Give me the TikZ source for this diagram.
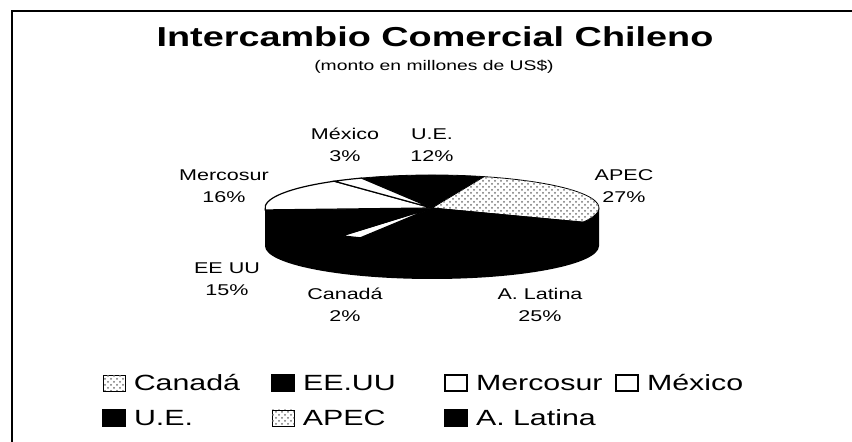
\documentclass[tikz,border=0pt]{standalone}
\usepackage{fontspec}
\setmainfont{Liberation Sans}[FakeStretch=1.38]
\usetikzlibrary{positioning,patterns}

\begin{document}
\begin{tikzpicture}[x=0.5pt,y=0.5pt,
    sliceblack/.style={fill=black, draw=black, line width=0.4pt},
    slicewhite/.style={fill=white, draw=black, line width=0.6pt},
    slicedots/.style={fill=white, draw=black, line width=0.4pt, postaction={pattern=crosshatch dots, pattern color=black!55}},
    lbl/.style={align=center, inner sep=0pt, font=\fontsize{7.8}{11}\selectfont},
    keybox/.style={draw, line width=0.6pt, minimum width=11pt, minimum height=8pt, inner sep=0pt},
    keytext/.style={inner sep=0pt, font=\fontsize{11}{13}\selectfont}]
    \useasboundingbox (0,0) rectangle (852,442);

    % frame
    \draw[line width=1pt] (12,0) -- (12,431) -- (852,431);

    % titles
    \node (title) [anchor=base, inner sep=0pt, font=\bfseries\fontsize{13.7}{16}\selectfont] at (435,395) {Intercambio Comercial Chileno};
    \node (subtitle) [anchor=base, inner sep=0pt, font=\fontsize{7}{8}\selectfont] at (434,371) {(monto en millones de US\$)};

    % pie: side first, then the top slices
    \coordinate (pc) at (432,234);
    \fill[black] (pc) ++(-167,0) -- ++(0,-38) arc[start angle=180, end angle=360, x radius=167, y radius=33] -- ++(0,38) -- cycle;
    \filldraw[sliceblack] (pc) -- ++(115:167 and 33) arc[start angle=115, end angle=71.8, x radius=167, y radius=33] -- cycle;       % U.E.
    \filldraw[slicedots] (pc) -- ++(71.8:167 and 33) arc[start angle=71.8, end angle=-25.4, x radius=167, y radius=33] -- cycle;     % APEC
    \filldraw[sliceblack] (pc) -- ++(-25.4:167 and 33) arc[start angle=-25.4, end angle=-115.4, x radius=167, y radius=33] -- cycle; % A. Latina
    \filldraw[slicewhite] (pc) -- ++(-115.4:167 and 33) arc[start angle=-115.4, end angle=-122.6, x radius=167, y radius=33] -- cycle; % Canada
    \filldraw[sliceblack] (pc) -- ++(-122.6:167 and 33) arc[start angle=-122.6, end angle=-176.6, x radius=167, y radius=33] -- cycle; % EE UU
    \filldraw[slicewhite] (pc) -- ++(-176.6:167 and 33) arc[start angle=-176.6, end angle=-234.2, x radius=167, y radius=33] -- cycle; % Mercosur
    \filldraw[slicewhite] (pc) -- ++(125.8:167 and 33) arc[start angle=125.8, end angle=115, x radius=167, y radius=33] -- cycle;     % Mexico

    % slice labels
    \node (lmex) [lbl] at (345,297) {México\\3\%};
    \node (lue) [lbl] at (432,297) {U.E.\\12\%};
    \node (lmer) [lbl] at (224,256) {Mercosur\\16\%};
    \node (lapec) [lbl] at (624,256) {APEC\\27\%};
    \node (leeuu) [lbl] at (227,163) {EE UU\\15\%};
    \node (lcan) [lbl] at (345,137) {Canadá\\2\%};
    \node (llat) [lbl] at (540,137) {A. Latina\\25\%};

    % legend
    \node (kcan) [keybox, slicedots] at (114,59) {};
    \node (tcan) [keytext, right=4pt of kcan] {Canadá};
    \node (keeuu) [keybox, fill=black] at (283,59) {};
    \node (teeuu) [keytext, right=4pt of keeuu] {EE.UU};
    \node (kmer) [keybox, fill=white] at (456,59) {};
    \node (tmer) [keytext, right=4pt of kmer] {Mercosur};
    \node (kmex) [keybox, fill=white] at (627,59) {};
    \node (tmex) [keytext, right=4pt of kmex] {México};
    \node (kue) [keybox, fill=black] at (114,24) {};
    \node (tue) [keytext, right=4pt of kue] {U.E.};
    \node (kapec) [keybox, slicedots] at (283,24) {};
    \node (tapec) [keytext, right=4pt of kapec] {APEC};
    \node (klat) [keybox, fill=black] at (456,24) {};
    \node (tlat) [keytext, right=4pt of klat] {A. Latina};
\end{tikzpicture}
\end{document}
